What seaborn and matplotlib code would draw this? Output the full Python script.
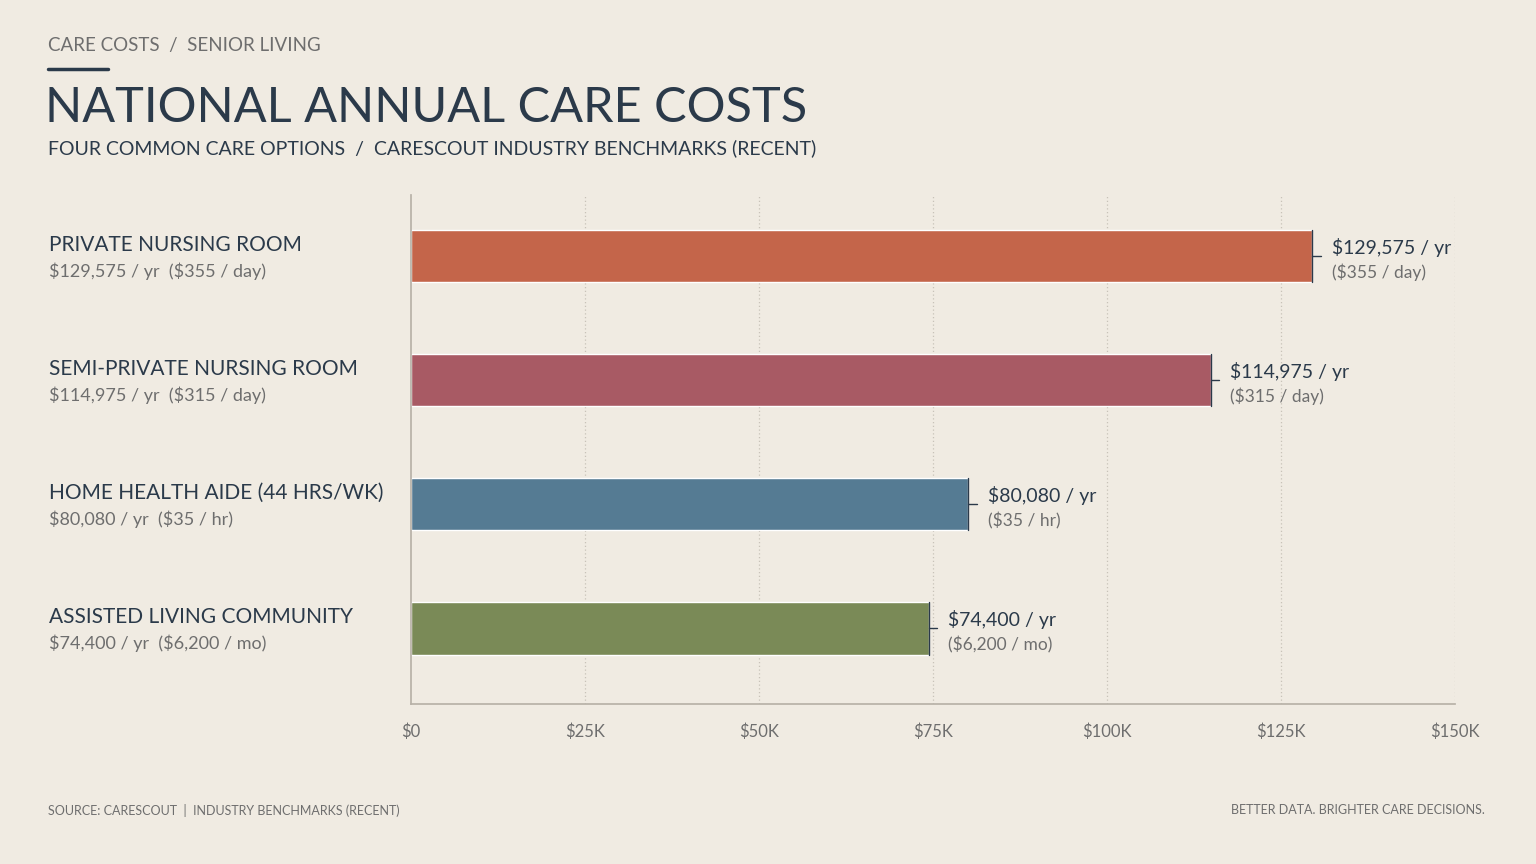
import matplotlib
matplotlib.use("Agg")
import matplotlib.pyplot as plt
import seaborn as sns
import pandas as pd

categories = ["PRIVATE NURSING ROOM", "SEMI-PRIVATE NURSING ROOM",
              "HOME HEALTH AIDE (44 HRS/WK)", "ASSISTED LIVING COMMUNITY"]
annual = [129575, 114975, 80080, 74400]
unit_rates = ["($355 / day)", "($315 / day)", "($35 / hr)", "($6,200 / mo)"]
colors = ["#C4654A", "#A85A64", "#557B93", "#7A8A57"]
tick_vals = [0, 25000, 50000, 75000, 100000, 125000, 150000]
tick_labels = ["$0", "$25K", "$50K", "$75K", "$100K", "$125K", "$150K"]

BG = "#F0EBE2"
DARK = "#2B3A4A"
GREY = "#6E6E6E"

sns.set_theme(style="white")
plt.rcParams["font.family"] = ["Lato", "DejaVu Sans"]
plt.rcParams["text.parse_math"] = False

df = pd.DataFrame({"cat": categories, "annual": annual})

fig = plt.figure(figsize=(15.36, 8.64), dpi=100, facecolor=BG)
ax = fig.add_axes([0.2676, 0.185, 0.947 - 0.2676, 0.774 - 0.185])
ax.set_facecolor(BG)

sns.barplot(data=df, y="cat", x="annual", hue="cat", palette=colors,
            orient="h", width=0.42, legend=False, ax=ax, saturation=1)

ax.set_xlim(0, 150000)
ax.set_ylim(3.61, -0.49)
ax.set_xticks(tick_vals)
ax.set_xticklabels(tick_labels, color=GREY, fontsize=12)
ax.tick_params(axis="x", length=0, pad=14)
ax.set_yticks([])
ax.set_xlabel("")
ax.set_ylabel("")
for v in tick_vals[1:]:
    ax.axvline(v, color="#C8C2B8", linestyle=(0, (1, 2)), linewidth=0.9, zorder=0)
for s in ["top", "right"]:
    ax.spines[s].set_visible(False)
ax.spines["left"].set_color("#B8B2A8")
ax.spines["bottom"].set_color("#B8B2A8")

for i, (cat, val, rate) in enumerate(zip(categories, annual, unit_rates)):
    ax.plot([val, val], [i - 0.21, i + 0.21], color=DARK, lw=1, zorder=3)
    ax.plot([val, val + 1200], [i, i], color=DARK, lw=1, zorder=3)
    ax.text(val + 2800, i - 0.07, f"${val:,} / yr", color=DARK, fontsize=14,
            va="center", ha="left")
    ax.text(val + 2800, i + 0.13, rate, color=GREY, fontsize=12.5,
            va="center", ha="left")
    y_fig = 1 - (256 + 124 * i) / 864
    fig.text(0.032, y_fig + 0.0125, cat, color=DARK, fontsize=15, va="center")
    fig.text(0.032, y_fig - 0.0175, f"${val:,} / yr  {rate}", color=GREY,
             fontsize=13, va="center")

fig.text(0.031, 0.947, "CARE COSTS  /  SENIOR LIVING", color=GREY, fontsize=13.5,
         va="center")
fig.add_artist(plt.Line2D([0.031, 0.070], [0.920, 0.920], color=DARK, lw=2.5))
fig.text(0.029, 0.875, "NATIONAL ANNUAL CARE COSTS", color=DARK, fontsize=35,
         va="center")
fig.text(0.031, 0.829, "FOUR COMMON CARE OPTIONS  /  CARESCOUT INDUSTRY BENCHMARKS (RECENT)",
         color=DARK, fontsize=14, va="center")
fig.text(0.031, 0.062, "SOURCE: CARESCOUT  |  INDUSTRY BENCHMARKS (RECENT)",
         color=GREY, fontsize=9, va="center")
fig.text(0.967, 0.062, "BETTER DATA. BRIGHTER CARE DECISIONS.", color=GREY,
         fontsize=9, va="center", ha="right")

fig.savefig("out.png", dpi=100, facecolor=BG)
